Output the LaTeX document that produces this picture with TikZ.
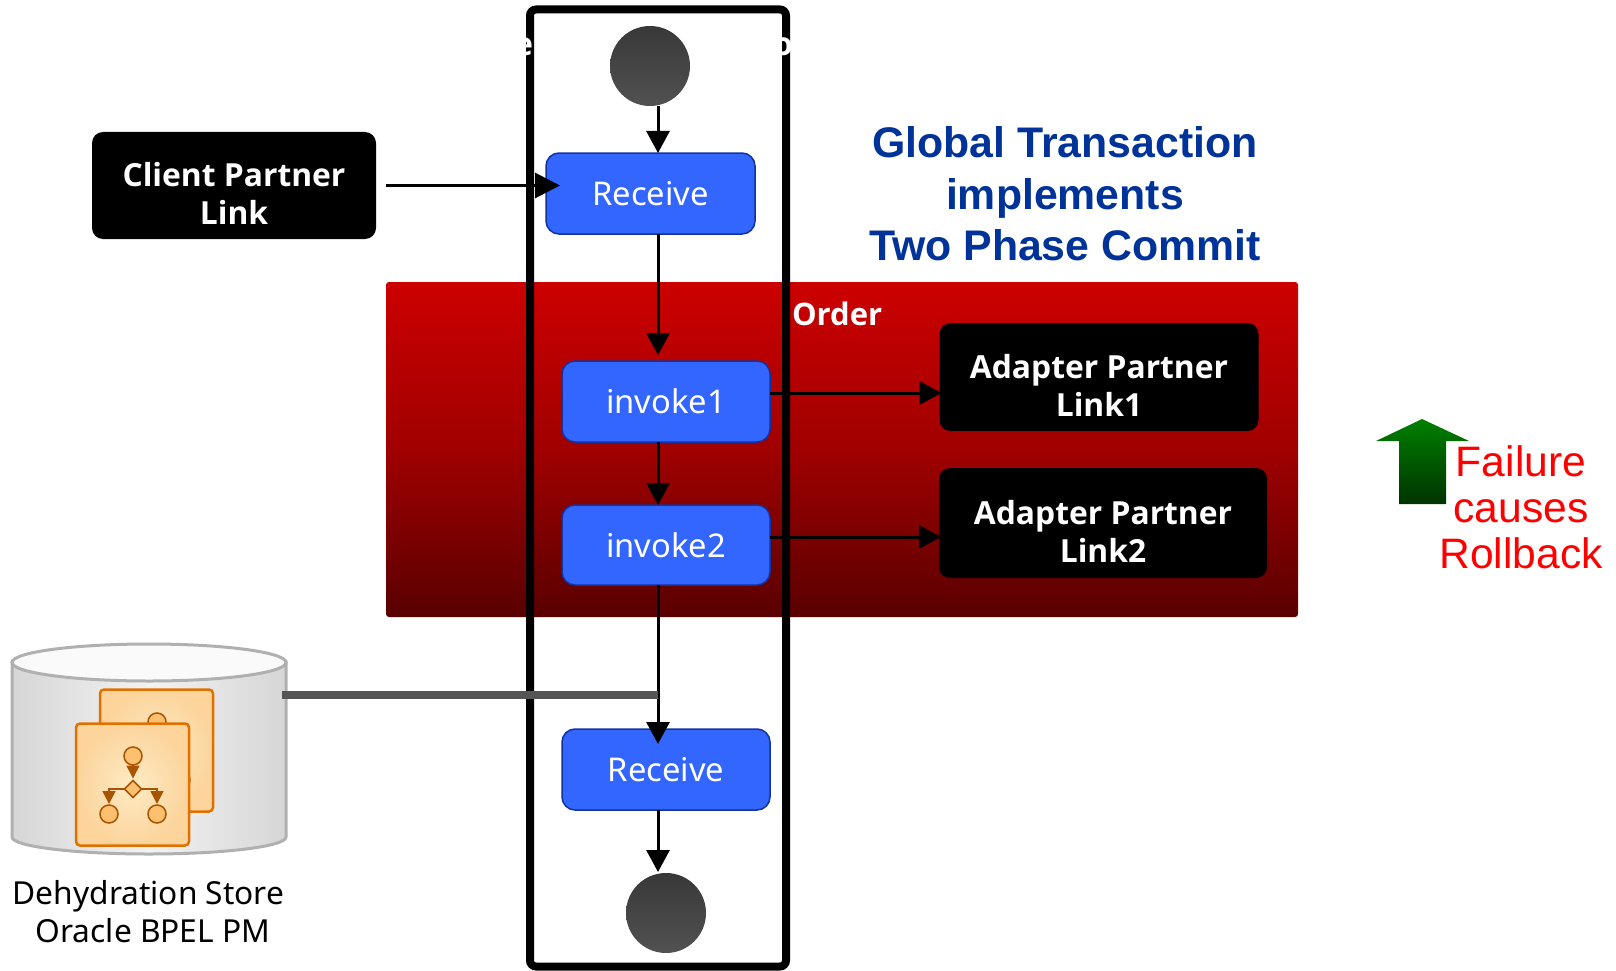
\documentclass[tikz,border=0pt]{standalone}
\usepackage{fontspec}
\usepackage{tikz}
\usetikzlibrary{arrows.meta,shapes.geometric}
\setmainfont{Noto Sans}
\newfontfamily\headfont{Liberation Sans}
\newfontfamily\strongfont{Open Sans}
\definecolor{actblue}{HTML}{3366FF}
\definecolor{actline}{HTML}{1033A0}
\definecolor{titleblue}{HTML}{003399}
\definecolor{txtop}{HTML}{CC0000}
\definecolor{txmid}{HTML}{A00000}
\definecolor{txbottom}{HTML}{590000}
\definecolor{docline}{HTML}{E07000}
\definecolor{docin}{HTML}{FDEBC4}
\definecolor{docout}{HTML}{FCD49C}
\definecolor{dotfill}{HTML}{FDBF70}
\definecolor{iconline}{HTML}{A85400}
\definecolor{drumline}{HTML}{B0B0B0}
\definecolor{wire}{HTML}{555555}
\begin{document}
\begin{tikzpicture}[x=1pt, y=-1pt, inner sep=0pt, outer sep=0pt,
    activity/.style={draw=actline, line width=1.5pt, fill=actblue, rounded corners=13pt, minimum width=208pt, minimum height=81pt, text=white, text height=24.5pt, text depth=0pt, font=\fontsize{32.7}{38}\selectfont},
    partner/.style={fill=black, rounded corners=11pt, text=white, align=center, text height=78pt, text depth=0pt, font=\strongfont\bfseries\fontsize{31.8}{38}\selectfont},
    endpoint/.style={circle, minimum size=80pt, top color=black!78, bottom color=black!68},
    flow/.style={line width=3pt, -{Triangle[width=23pt,length=22pt]}},
    doc/.style={draw=docline, line width=2.5pt, rounded corners=4pt, inner color=docin, outer color=docout, minimum width=113pt, minimum height=122pt},
    dot/.style={circle, draw=iconline, line width=1.5pt, fill=dotfill, minimum size=18pt},
    iconflow/.style={draw=iconline, line width=1.5pt, -{Triangle[width=13pt,length=13pt]}}]
  \useasboundingbox (0,0) rectangle (1616,971);

  \node [rounded corners=3pt, top color=txtop, bottom color=txbottom, middle color=txmid, minimum width=912pt, minimum height=335pt] (tx) at (842,449.5) {};
  \node [draw, line width=8pt, rounded corners=6pt, minimum width=256pt, minimum height=957pt] (lane) at (658,488) {};
  \node [anchor=east, text=white, font=\strongfont\bfseries\fontsize{32}{38}\selectfont] (laneleft) at (533,47) {e};
  \node [anchor=west, text=white, font=\strongfont\bfseries\fontsize{32}{38}\selectfont] (laneright) at (773,47) {o};
  \node [anchor=base west, text=white, font=\strongfont\bfseries\fontsize{31}{38}\selectfont] (order) at (792,325) {Order};

  \node [endpoint] (start) at (650,66) {};
  \node [activity, minimum width=209pt] (receive1) at (650.5,193.5) {Receive};
  \node [activity] (invoke1) at (666,401.5) {invoke1};
  \node [activity, minimum height=80pt] (invoke2) at (666,545) {invoke2};
  \node [activity] (receive2) at (666,769.5) {Receive};
  \node [endpoint] (stop) at (666,913) {};

  \node [partner, minimum width=284pt, minimum height=107pt] (client) at (234,185.5) {Client Partner\\Link};
  \node [partner, minimum width=319pt, minimum height=108pt] (adapter1) at (1099,377) {Adapter Partner\\Link1};
  \node [partner, minimum width=328pt, minimum height=110pt] (adapter2) at (1103,523) {Adapter Partner\\Link2};

  \coordinate (spine) at (658,0);
  \coordinate (out1) at (0,393);
  \coordinate (out2) at (0,537);
  \coordinate (dbtap) at (282,694.5);
  \draw [flow] (spine |- start.south) -- (spine |- receive1.north);
  \draw [flow, -{Triangle[width=25pt,length=25pt]}, shorten <=10pt, shorten >=-14pt] (client.east) -- (client.east -| receive1.west);
  \draw [flow, shorten >=6pt] (spine |- receive1.south) -- (spine |- invoke1.north);
  \draw [flow] (spine |- invoke1.south) -- (spine |- invoke2.north);
  \draw [flow, shorten >=-15pt] (spine |- invoke2.south) -- (spine |- receive2.north);
  \draw [flow, shorten >=1pt] (spine |- receive2.south) -- (spine |- stop.north);
  \draw [flow, shorten >=-2pt] (invoke1.east |- out1) -- (adapter1.west |- out1);
  \draw [flow, shorten >=-2pt] (invoke2.east |- out2) -- (adapter2.west |- out2);

  \draw [draw=drumline, line width=3pt, left color=black!16, right color=black!16, middle color=black!5] (12,662) -- (12,837) arc [start angle=180, end angle=360, x radius=137pt, y radius=17pt] -- (286,662) -- cycle;
  \draw [draw=drumline, line width=3pt, fill=black!2] (149,662.5) ellipse [x radius=137pt, y radius=18.5pt];
  \draw [draw=wire, line width=8pt] (dbtap) -- (spine |- dbtap);

  \node [doc] (doc2) at (156.5,750.5) {};
  \node [dot] (dot4) at (157,722) {};
  \node [dot] (dot5) at (181,780) {};
  \node [doc] (doc1) at (132.5,784.5) {};
  \node [dot] (dot1) at (133,756) {};
  \node [diamond, draw=iconline, line width=1.5pt, fill=dotfill, minimum size=17pt] (gate) at (133,789) {};
  \node [dot] (dot2) at (109,814) {};
  \node [dot] (dot3) at (157,814) {};
  \draw [iconflow, shorten >=2pt] (dot1) -- (gate);
  \draw [iconflow, shorten >=1pt] (gate) -| (dot2);
  \draw [iconflow, shorten >=1pt] (gate) -| (dot3);

  \node [anchor=base, font=\fontsize{31.7}{38}\selectfont] (store1) at (148.5,904) {Dehydration Store};
  \node [anchor=base, font=\fontsize{31.7}{38}\selectfont] (store2) at (153,942) {Oracle BPEL PM};

  \node [align=center, text=titleblue, font=\headfont\bfseries\fontsize{42.8}{51.5}\selectfont] (title) at (1065,194) {Global Transaction\\implements\\Two Phase Commit};

  \shade [top color=green!50!black, bottom color=green!20!black] (1422,419) -- (1469,441) -- (1446,441) -- (1446,504) -- (1399,504) -- (1399,441) -- (1376,441) -- cycle;
  \node [align=center, text=red, font=\headfont\fontsize{42.6}{46}\selectfont] (failure) at (1521,507.5) {Failure\\causes\\Rollback};
\end{tikzpicture}
\end{document}
